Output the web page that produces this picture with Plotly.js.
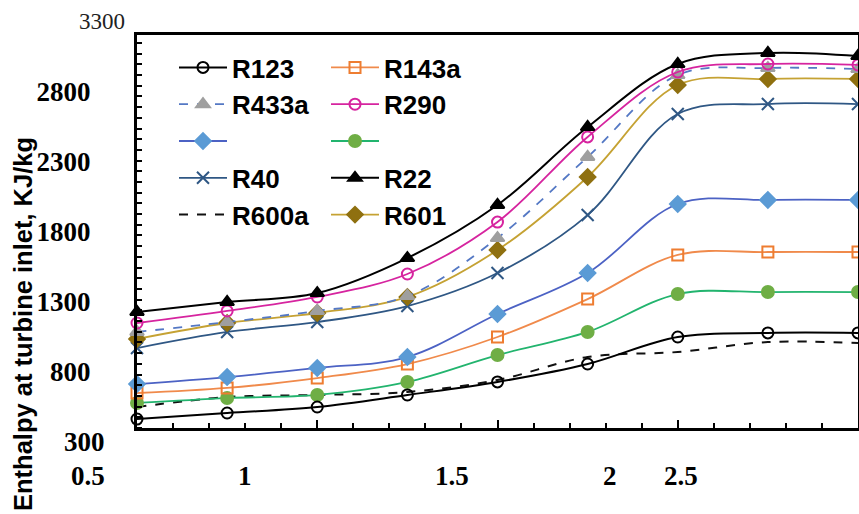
<!DOCTYPE html>
<html>
<head>
<meta charset="utf-8">
<script src="https://cdn.plot.ly/plotly-3.0.1.min.js"></script>
<style>html,body{margin:0;padding:0;background:#fff;}#chart{width:859px;height:514px;}</style>
</head>
<body>
<div id="chart"></div>
<script>
// ---- data ----
const xValues = [0.5, 0.75, 1, 1.25, 1.5, 1.75, 2, 2.25, 2.5];
const R123 = [464, 507, 550, 636, 729, 857, 1050, 1079, 1079];
const R143a = [650, 686, 757, 857, 1050, 1321, 1636, 1657, 1657];
const R433a = [1086, 1157, 1236, 1343, 1757, 2336, 2921, 2971, 2964];
const R290 = [1150, 1236, 1336, 1500, 1871, 2479, 2943, 3000, 2993];
const unlabeledBlue = [714, 764, 829, 907, 1214, 1507, 2000, 2029, 2029];
const unlabeledGreen = [579, 614, 636, 729, 921, 1086, 1357, 1371, 1371];
const R40 = [971, 1086, 1157, 1271, 1507, 1921, 2643, 2714, 2714];
const R22 = [1229, 1300, 1364, 1614, 1993, 2550, 3000, 3079, 3057];
const R600a = [550, 621, 636, 657, 743, 907, 943, 1014, 1007];
const R601 = [1036, 1150, 1221, 1336, 1671, 2193, 2850, 2893, 2893];

const yTickVals = [800, 1300, 1800, 2300, 2800];
const yTickText = ['800', '1300', '1800', '2300', '2800'];
const yExtraLabels = ['3300', '300'];
const xLabels = ['0.5', '1', '1.5', '2', '2.5'];
const yTitle = 'Enthalpy at turbine inlet, KJ/kg';

// ---- styling ----
function tr(name, y, legend, rank, lineColor, dash, width, symbol, mColor, mSize, mLine) {
  const t = {
    x: xValues, y: y, name: name, type: 'scatter',
    mode: symbol ? 'lines+markers' : 'lines',
    line: {color: lineColor, width: width, dash: dash, shape: 'spline', smoothing: 1},
    legend: legend, legendrank: rank, cliponaxis: false, hoverinfo: 'x+y'
  };
  if (symbol) t.marker = {symbol: symbol, color: mColor, size: mSize, line: {color: mLine || mColor, width: 2}};
  return t;
}

const traces = [
  tr('R600a', R600a, 'legend', 5, '#111111', 'dash', 2, null),
  tr('', unlabeledGreen, 'legend2', 3, '#22b46e', 'solid', 1.8, 'circle', '#6fae45', 12),
  tr('R143a', R143a, 'legend2', 1, '#f08a4b', 'solid', 1.8, 'square-open', '#ee7d31', 11),
  tr('', unlabeledBlue, 'legend', 3, '#4c62c4', 'solid', 1.8, 'diamond', '#5b9bd5', 12),
  tr('R123', R123, 'legend', 1, '#000000', 'solid', 2, 'circle-open', '#000000', 11),
  tr('R40', R40, 'legend', 4, '#2f5784', 'solid', 1.8, 'x-thin-open', '#2f5784', 12),
  tr('R601', R601, 'legend2', 5, '#c5a233', 'solid', 1.8, 'diamond', '#8f7010', 12),
  tr('R433a', R433a, 'legend', 2, '#5478c4', 'dash', 1.8, 'triangle-up', '#9f9f9f', 12),
  tr('R290', R290, 'legend2', 2, '#d6249f', 'solid', 1.8, 'circle-open', '#d6249f', 11),
  tr('R22', R22, 'legend2', 4, '#000000', 'solid', 2, 'triangle-up', '#000000', 12)
];

const L = 137, T = 35, R = 858, B = 428, W = 859, H = 514;
const px = v => (v - L) / (R - L);
const py = v => (B - v) / (B - T);

const serifBold = {family: 'Liberation Serif, Times New Roman, serif', size: 27, color: '#000', weight: 700};
const legendFont = {family: 'Liberation Sans, Arial, sans-serif', size: 26, color: '#000', weight: 700};

const annotations = [];
// y labels outside the frame
[[yExtraLabels[0], 102, 22, {family: 'Liberation Serif, serif', size: 23, color: '#222', weight: 400}],
 [yExtraLabels[1], 84, 442, serifBold]].forEach(a => annotations.push({
  text: a[0], xref: 'paper', yref: 'paper', x: px(a[1]), y: py(a[2]),
  xanchor: 'center', yanchor: 'middle', showarrow: false, font: a[3]
}));
// x labels (displaced as in the reference)
const xLabelPx = [88, 245, 452, 610, 681];
xLabels.forEach((s, i) => annotations.push({
  text: s, xref: 'paper', yref: 'paper', x: px(xLabelPx[i]), y: py(476),
  xanchor: 'center', yanchor: 'middle', showarrow: false, font: serifBold
}));
annotations.push({
  text: yTitle, xref: 'paper', yref: 'paper', x: px(23), y: py(324), textangle: -90,
  xanchor: 'center', yanchor: 'middle', showarrow: false,
  font: {family: 'Liberation Sans, Arial, sans-serif', size: 25.5, color: '#000', weight: 700}
});

const legendCommon = {
  orientation: 'v', xanchor: 'left', yanchor: 'top', bgcolor: 'rgba(0,0,0,0)',
  font: legendFont, tracegroupgap: 0, itemwidth: 48, traceorder: 'normal'
};

const layout = {
  width: W, height: H,
  margin: {l: L, r: W - R, t: T, b: H - B, pad: 0},
  paper_bgcolor: '#fff', plot_bgcolor: '#fff',
  showlegend: true,
  legend: Object.assign({}, legendCommon, {x: px(174), y: py(44)}),
  legend2: Object.assign({}, legendCommon, {x: px(326), y: py(44)}),
  xaxis: {
    range: [0.5, 2.5], showgrid: false, zeroline: false,
    showline: true, linecolor: '#000', linewidth: 3, mirror: true,
    ticks: 'inside', tickvals: [0.5, 1, 1.5, 2, 2.5], ticklen: 8, tickwidth: 2, tickcolor: '#000',
    showticklabels: false,
    minor: {dtick: 0.1, tick0: 0.5, ticks: 'inside', ticklen: 5, tickwidth: 2, tickcolor: '#000', showgrid: false}
  },
  yaxis: {
    range: [400, 3207.1], showgrid: false, zeroline: false,
    showline: true, linecolor: '#000', linewidth: 3, mirror: true,
    tickvals: yTickVals, ticktext: yTickText, ticks: '',
    tickfont: serifBold, ticklabelstandoff: 38,
    minor: {dtick: 76.4, tick0: 400, ticks: 'inside', ticklen: 5, tickwidth: 2, tickcolor: '#000', showgrid: false}
  },
  annotations: annotations
};

Plotly.newPlot('chart', traces, layout, {displayModeBar: false, staticPlot: true});
</script>
</body>
</html>
